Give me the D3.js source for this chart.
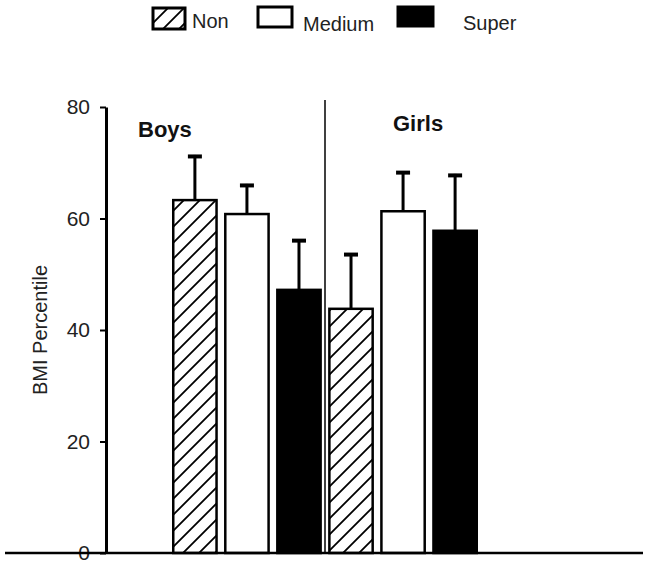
<!DOCTYPE html>
<html>
<head>
<meta charset="utf-8">
<script src="https://cdn.jsdelivr.net/npm/d3@7"></script>
<style>
  html, body { margin: 0; padding: 0; background: #fff; }
  text { font-family: "Liberation Sans", Arial, sans-serif; }
</style>
</head>
<body>
<svg id="chart" width="649" height="567"></svg>
<script>
// ---- data ----
const groups = ["Boys", "Girls"];
const series = ["Non", "Medium", "Super"];
const means = {
  Boys:  [63.3, 60.8, 47.2],
  Girls: [43.8, 61.3, 57.8]
};
const errors = {
  Boys:  [8.1, 5.4, 9.1],
  Girls: [10.0, 7.2, 10.2]
};
const yTicks = [0, 20, 40, 60, 80];
const yLabel = "BMI Percentile";

// ---- layout ----
const svg = d3.select("#chart");
const y = d3.scaleLinear().domain([0, 80]).range([553, 107]);

const keys = [];
groups.forEach(g => series.forEach(s => keys.push(g + "|" + s)));
const x = d3.scaleBand().domain(keys).range([172, 478]).paddingInner(0.12).paddingOuter(0);

const defs = svg.append("defs");
const pat = defs.append("pattern")
  .attr("id", "hatch")
  .attr("patternUnits", "userSpaceOnUse")
  .attr("width", 16).attr("height", 16);
pat.append("rect").attr("width", 16).attr("height", 16).attr("fill", "#fff");
pat.append("path")
  .attr("d", "M0,16 L16,0 M-4,4 L4,-4 M12,20 L20,12")
  .attr("stroke", "#000").attr("stroke-width", 1.8);

const fills = { Non: "url(#hatch)", Medium: "#fff", Super: "#000" };

const rows = [];
groups.forEach(g => series.forEach((s, i) => rows.push({ g, s, v: means[g][i], e: errors[g][i] })));

// error bars (drawn first so the bar outline covers the stem base)
const eb = svg.append("g").selectAll("g").data(rows).join("g");
eb.append("line")
  .attr("x1", d => x(d.g + "|" + d.s) + x.bandwidth() / 2)
  .attr("x2", d => x(d.g + "|" + d.s) + x.bandwidth() / 2)
  .attr("y1", d => y(d.v))
  .attr("y2", d => y(d.v + d.e))
  .attr("stroke", "#000").attr("stroke-width", 3);
eb.append("line")
  .attr("x1", d => x(d.g + "|" + d.s) + x.bandwidth() / 2 - 7)
  .attr("x2", d => x(d.g + "|" + d.s) + x.bandwidth() / 2 + 7)
  .attr("y1", d => y(d.v + d.e) + 1.5)
  .attr("y2", d => y(d.v + d.e) + 1.5)
  .attr("stroke", "#000").attr("stroke-width", 4);

// bars
svg.append("g").selectAll("rect").data(rows).join("rect")
  .attr("x", d => x(d.g + "|" + d.s) + 1.25)
  .attr("width", x.bandwidth() - 2.5)
  .attr("y", d => y(d.v))
  .attr("height", d => y(0) - y(d.v))
  .attr("fill", d => fills[d.s])
  .attr("stroke", "#000").attr("stroke-width", 2.5);

// divider between groups
const divX = (x("Boys|Super") + x.bandwidth() + x("Girls|Non")) / 2;
svg.append("line")
  .attr("x1", divX).attr("x2", divX)
  .attr("y1", 100).attr("y2", y(0))
  .attr("stroke", "#000").attr("stroke-width", 1.5);

// y axis
const yAxis = svg.append("g")
  .attr("transform", "translate(106,0)")
  .call(d3.axisLeft(y).tickValues(yTicks).tickSize(6).tickSizeOuter(0).tickPadding(10));
yAxis.select(".domain").attr("stroke", "#000").attr("stroke-width", 3);
yAxis.selectAll(".tick line").attr("stroke", "#000").attr("stroke-width", 2);
yAxis.selectAll(".tick text")
  .attr("font-size", 21).attr("fill", "#222")
  .style("font-family", "'Liberation Sans', Arial, sans-serif");

// baseline
svg.append("line")
  .attr("x1", 5).attr("x2", 643)
  .attr("y1", y(0)).attr("y2", y(0))
  .attr("stroke", "#000").attr("stroke-width", 2.5);

// y label
svg.append("text")
  .attr("transform", `translate(47,${(y(0) + y(80)) / 2}) rotate(-90)`)
  .attr("text-anchor", "middle")
  .attr("font-size", 20).attr("fill", "#222")
  .text(yLabel);

// group labels
const groupLabelPos = [{ t: groups[0], x: 138, y: 137 }, { t: groups[1], x: 393, y: 131 }];
svg.append("g").selectAll("text").data(groupLabelPos).join("text")
  .attr("x", d => d.x).attr("y", d => d.y)
  .attr("font-size", 22).attr("font-weight", "bold").attr("fill", "#111")
  .text(d => d.t);

// legend
const legendPos = [
  { s: "Non", bx: 153, by: 8, bw: 32, bh: 21, tx: 192, ty: 28 },
  { s: "Medium", bx: 258, by: 7, bw: 34, bh: 20, tx: 303, ty: 31 },
  { s: "Super", bx: 398, by: 7, bw: 35, bh: 19, tx: 463, ty: 30 }
];
const lg = svg.append("g").selectAll("g").data(legendPos).join("g");
lg.append("rect")
  .attr("x", d => d.bx).attr("y", d => d.by)
  .attr("width", d => d.bw).attr("height", d => d.bh)
  .attr("fill", d => fills[d.s])
  .attr("stroke", "#000").attr("stroke-width", 3);
lg.append("text")
  .attr("x", d => d.tx).attr("y", d => d.ty)
  .attr("font-size", 20).attr("fill", "#222")
  .text(d => d.s);
</script>
</body>
</html>
